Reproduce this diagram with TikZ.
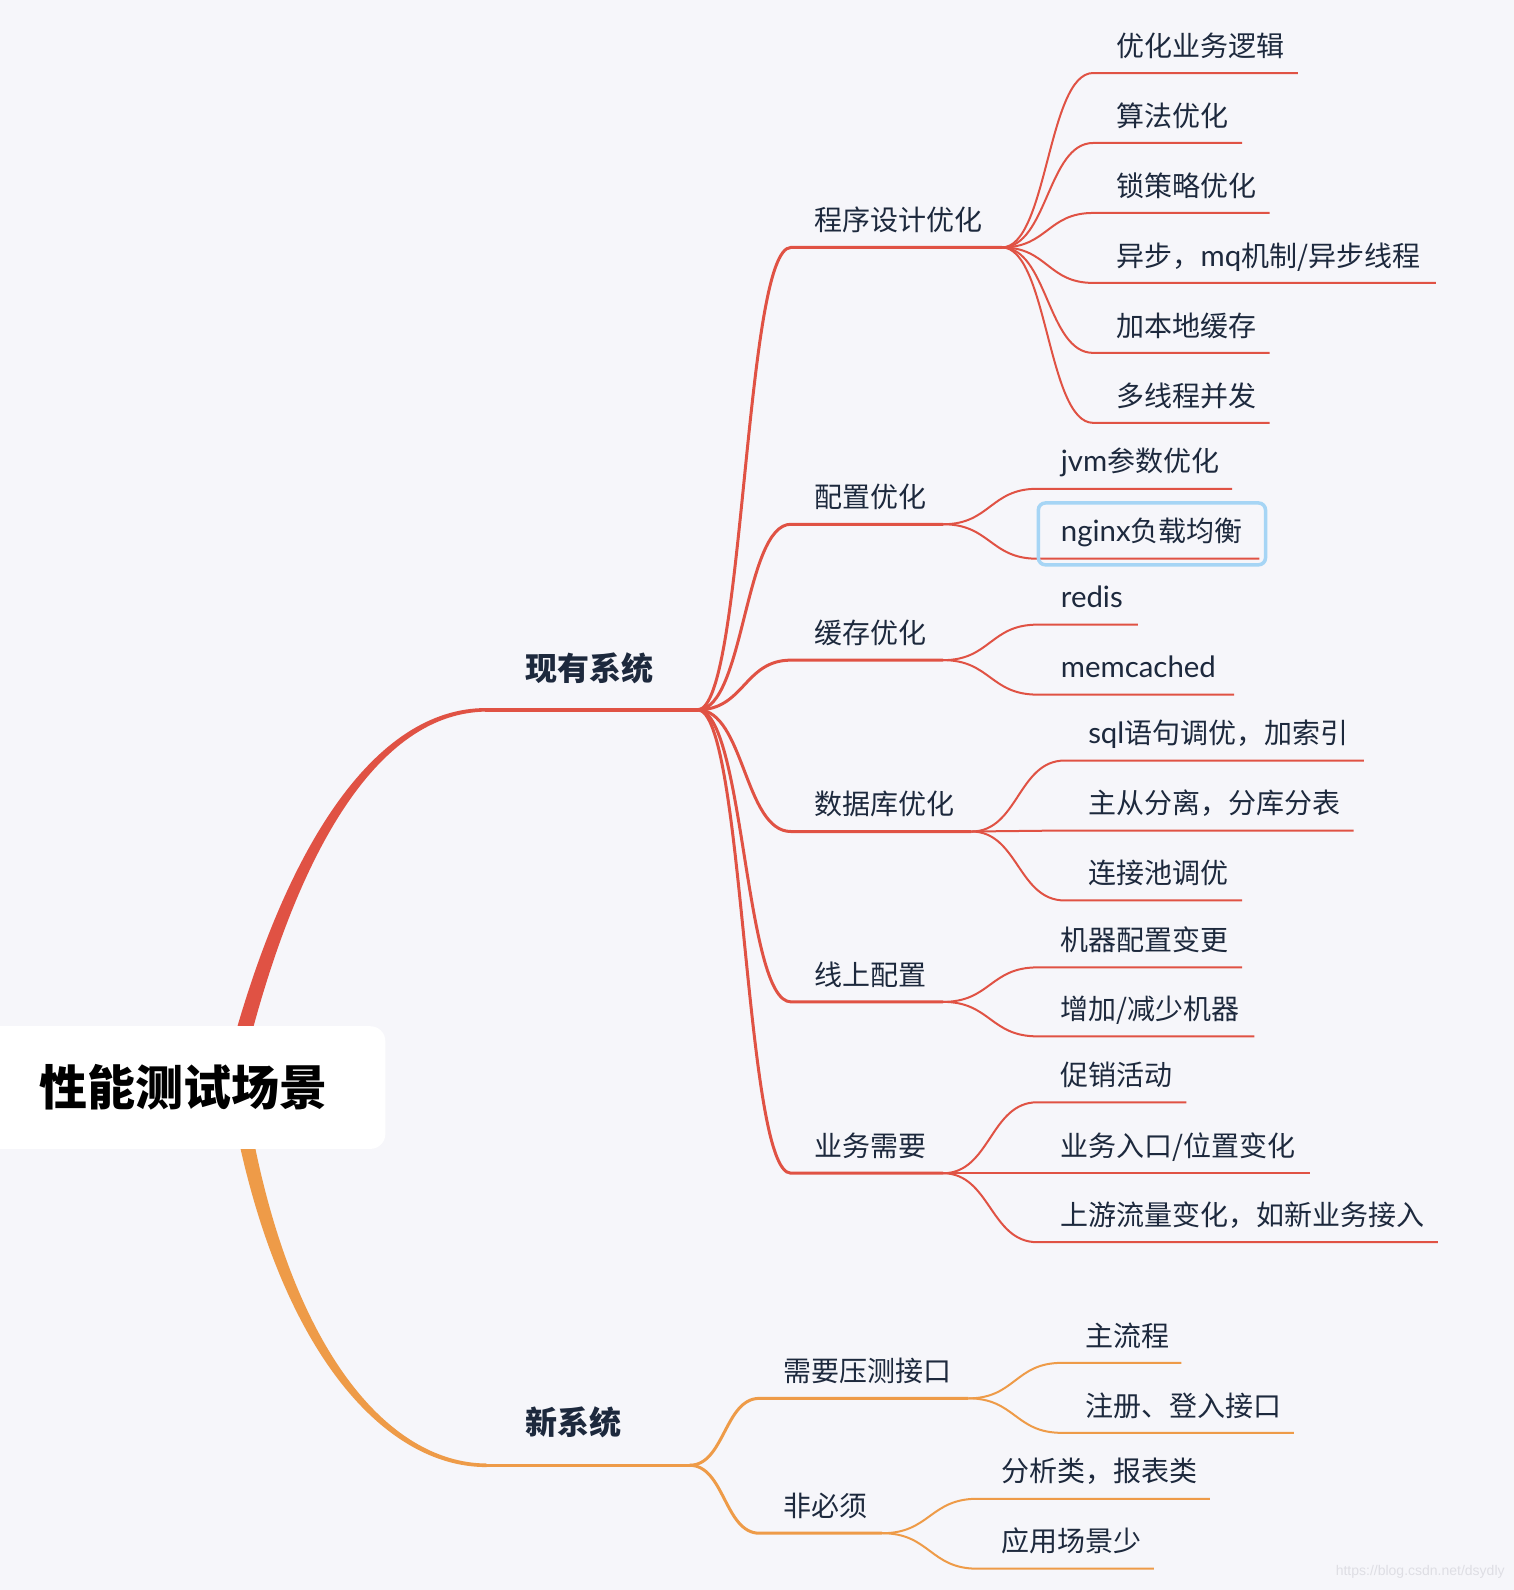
\documentclass[tikz,border=0pt]{standalone}
\usepackage{fontspec}
\setmainfont{Noto Sans CJK SC}
\newfontfamily\latf[Scale=1.05]{Lato}
\newfontfamily\wmf{Liberation Sans}
\usetikzlibrary{calc}
\definecolor{bgc}{RGB}{246,246,250}
\definecolor{redc}{RGB}{224,82,68}
\definecolor{orc}{RGB}{238,155,72}
\definecolor{txtc}{RGB}{29,41,61}
\definecolor{bluec}{RGB}{166,213,245}
\definecolor{wmc}{RGB}{222,222,228}
\newcommand\kid[7]{%
  \coordinate (#1-s) at (#3,#4);
  \coordinate (#1-e) at (#5,#4);
  \draw[#6] let \p1=(#2), \p2=(#1-s) in (#2) .. controls ({(\x1+\x2)/2},\y1) and ({(\x1+\x2)/2},\y2) .. (#1-s) -- (#1-e);
  \node[lab] (#1) at ([shift={(23,-27)}]#1-s) {#7};
}
\begin{document}
\begin{tikzpicture}[x=1.01407pt,y=-1.01407pt,
  lab/.style={anchor=west, inner sep=0pt, text height=24.6pt, text depth=3.4pt, text=txtc, font=\fontsize{28}{30}\selectfont},
  l1lab/.style={anchor=west, inner sep=0pt, text height=28.2pt, text depth=3.8pt, text=txtc, font=\fontsize{32}{34}\selectfont\bfseries},
  redA/.style={draw=redc, line width=3pt},
  redB/.style={draw=redc, line width=2pt},
  orA/.style={draw=orc, line width=3pt},
  orB/.style={draw=orc, line width=2pt}]
\useasboundingbox (0,0) rectangle (1493,1568);
\fill[bgc] (0,0) rectangle (1493,1568);
% main thick branches
\fill[redc] (224.2,1048) .. controls (279.4,837.8) and (368.3,697.6) .. (480,698.25) -- (480,701.75) .. controls (371.7,702.4) and (290.6,842.2) .. (239.8,1052) -- cycle;
\fill[orc] (230.65,1101.35) .. controls (274.9,1332.1) and (378.75,1447.2) .. (480,1446.75) -- (480,1443.25) .. controls (381.25,1442.8) and (285.1,1327.9) .. (245.35,1098.65) -- cycle;
\coordinate (L1) at (478,700);
\coordinate (R) at (688,700);
\coordinate (L2) at (478,1445);
\coordinate (O) at (680,1445);
\draw[redc, line width=3.5pt] (L1) -- (R);
\draw[orc, line width=3.5pt] (L2) -- (O);
% root
\fill[white, rounded corners=15pt] (-30,1012) rectangle (380,1133);
\node[anchor=west, inner sep=0pt, font=\fontsize{48}{50}\selectfont\bfseries, text=black] (root) at (39,1072) {性能测试场景};
% level 1 labels
\node[l1lab] (xy) at (518,659) {现有系统};
\node[l1lab] (xx) at (518,1403) {新系统};
% red level 2
\kid{p1}{R}{780}{244}{988}{redA}{程序设计优化}
\kid{p2}{R}{780}{517}{930}{redA}{配置优化}
\kid{p3}{R}{780}{651}{930}{redA}{缓存优化}
\kid{p4}{R}{780}{820}{958}{redA}{数据库优化}
\kid{p5}{R}{780}{988}{930}{redA}{线上配置}
\kid{p6}{R}{780}{1157}{930}{redA}{业务需要}
% red level 3
\kid{a1}{p1-e}{1078}{72}{1280}{redB}{优化业务逻辑}
\kid{a2}{p1-e}{1078}{141}{1225}{redB}{算法优化}
\kid{a3}{p1-e}{1078}{210}{1252}{redB}{锁策略优化}
\kid{a4}{p1-e}{1078}{279}{1416}{redB}{异步，{\latf mq}机制/异步线程}
\kid{a5}{p1-e}{1078}{348}{1252}{redB}{加本地缓存}
\kid{a6}{p1-e}{1078}{417}{1252}{redB}{多线程并发}
\kid{b1}{p2-e}{1023}{482}{1215}{redB}{{\latf jvm}参数优化}
\kid{b2}{p2-e}{1023}{551}{1242}{redB}{{\latf nginx}负载均衡}
\kid{c1}{p3-e}{1023}{616}{1122}{redB}{{\latf redis}}
\kid{c2}{p3-e}{1023}{685}{1217}{redB}{{\latf memcached}}
\kid{d1}{p4-e}{1050}{750}{1345}{redB}{{\latf sql}语句调优，加索引}
\kid{d2}{p4-e}{1050}{819}{1335}{redB}{主从分离，分库分表}
\kid{d3}{p4-e}{1050}{888}{1225}{redB}{连接池调优}
\kid{e1}{p5-e}{1023}{954}{1225}{redB}{机器配置变更}
\kid{e2}{p5-e}{1023}{1022}{1237}{redB}{增加/减少机器}
\kid{f1}{p6-e}{1023}{1087}{1170}{redB}{促销活动}
\kid{f2}{p6-e}{1023}{1157}{1292}{redB}{业务入口/位置变化}
\kid{f3}{p6-e}{1023}{1225}{1418}{redB}{上游流量变化，如新业务接入}
% orange
\kid{n1}{O}{749}{1379}{955}{orA}{需要压测接口}
\kid{n2}{O}{749}{1512}{870}{orA}{非必须}
\kid{g1}{n1-e}{1047}{1344}{1165}{orB}{主流程}
\kid{g2}{n1-e}{1047}{1413}{1276}{orB}{注册、登入接口}
\kid{h1}{n2-e}{964}{1478}{1193}{orB}{分析类，报表类}
\kid{h2}{n2-e}{964}{1547}{1138}{orB}{应用场景少}
% highlight
\draw[bluec, line width=3.5pt, rounded corners=7pt] (1024,496) rectangle (1248,557);
% watermark
\node[anchor=east, inner sep=0pt, font=\wmf\fontsize{14}{16}\selectfont, text=wmc] (wm) at (1484,1550) {https://blog.csdn.net/dsydly};
\end{tikzpicture}
\end{document}
